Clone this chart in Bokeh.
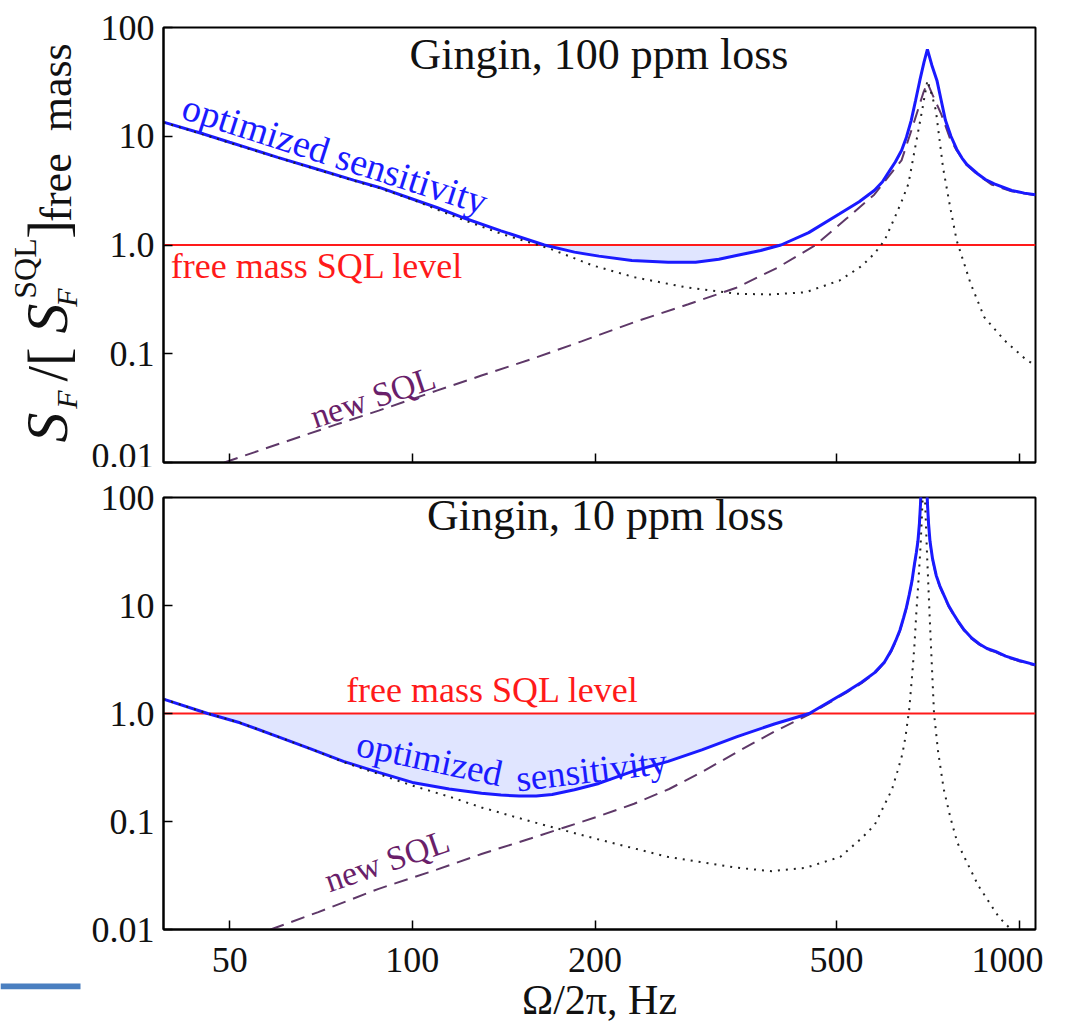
import numpy as np
from bokeh.plotting import figure
from bokeh.models import FixedTicker, Label, Range1d
from bokeh.layouts import column, row
from bokeh.core.properties import value
from bokeh.embed import file_html
from bokeh.resources import INLINE

FONT = "Liberation Serif"
X_MIN, X_MAX = 38.9, 1064.0
Y_MIN, Y_MAX = 0.01, 100.0

x_ticks = [50, 100, 200, 500, 1000]
x_tick_labels = ["50", "100", "200", "500", "1000"]
y_ticks = [0.01, 0.1, 1, 10, 100]
y_tick_labels = ["0.01", "0.1", "1.0", "10", "100"]
sql_level = 1.0

# ---------------- top panel: Gingin, 100 ppm loss ----------------
top_opt_f = [38.9, 45, 50, 60, 70, 80, 88, 100, 110, 120, 140, 165, 185, 203, 230, 264, 293, 320,
             342, 375, 405, 450, 506, 545, 577, 595, 610, 625, 640, 652, 664, 675, 686, 697, 706,
             718, 732, 744, 756, 772, 789, 805, 820, 854, 880, 910, 972, 1020, 1064]
top_opt_s = [13.5, 10.6, 8.8, 6.4, 4.95, 3.95, 3.40, 2.65, 2.2, 1.82, 1.35, 1.0, 0.86, 0.79, 0.72,
             0.695, 0.695, 0.74, 0.80, 0.89, 1.0, 1.3, 1.94, 2.5, 3.17, 3.8, 4.7, 5.8, 7.4, 9.8, 14.0,
             21.3, 32.6, 48, 63, 45, 32.6, 21.3, 14.0, 10.0, 7.6, 6.3, 5.5, 4.52, 4.0, 3.65, 3.17,
             3.0, 2.9]

top_dot_f = [38.9, 45, 50, 60, 70, 80, 88, 100, 120, 140, 169, 198, 232, 282, 342, 390, 445, 506,
             550, 577, 600, 624, 640, 657, 674, 692, 706, 718, 729, 749, 770, 789, 832, 876, 947,
             1023, 1064]
top_dot_s = [13.4, 10.5, 8.7, 6.35, 4.9, 3.9, 3.35, 2.62, 1.74, 1.27, 0.92, 0.65, 0.506, 0.409,
             0.356, 0.351, 0.368, 0.472, 0.64, 0.83, 1.10, 1.80, 2.5, 3.66, 7.9, 17.3, 32.6, 24,
             17.3, 5.19, 2.2, 1.10, 0.44, 0.217, 0.132, 0.0897, 0.078]

top_new_f = [49, 60, 75, 88, 110, 130, 156, 190, 232, 285, 342, 400, 462, 520, 577, 610, 640, 665,
             680, 695, 706, 720, 744, 770, 789, 820, 854, 900, 972, 1064]
top_new_s = [0.01, 0.0147, 0.0224, 0.030, 0.046, 0.063, 0.088, 0.13, 0.195, 0.285, 0.405, 0.62,
             1.0, 1.76, 2.9, 4.3, 6.0, 11.5, 17, 25, 31, 24, 16, 9.4, 7.4, 5.4, 4.45, 3.6, 3.12, 2.86]

# ---------------- bottom panel: Gingin, 10 ppm loss ----------------
bot_opt_f = [38.9, 46, 52, 60, 68, 77, 88, 100, 115, 130, 140, 150, 160, 170, 185, 203, 230, 264,
             300, 343, 395, 451, 520, 550, 578, 600, 615, 626, 636, 645, 652, 659, 666, 672, 677,
             681, 685, 688, 692, 697, 702, 706, 709, 713, 720, 730, 740, 751, 765, 780, 795, 812,
             835, 860, 885, 914, 950, 1000, 1064]
bot_opt_s = [1.36, 1.0, 0.82, 0.61, 0.47, 0.36, 0.285, 0.23, 0.2, 0.183, 0.176, 0.172, 0.172,
             0.178, 0.197, 0.225, 0.29, 0.36, 0.46, 0.61, 0.8, 1.0, 1.6, 1.95, 2.39, 3.0, 3.8, 4.72,
             5.9, 7.7, 9.6, 12.6, 17, 24, 31, 39.3, 58, 90, 200, 500, 200, 90, 58, 39.3, 27, 19,
             15.2, 12.6, 10.0, 8.3, 7.0, 5.92, 5.0, 4.4, 4.0, 3.76, 3.4, 3.1, 2.82]

bot_dot_f = [38.9, 46, 52, 60, 68, 77, 88, 100, 115, 130, 157, 203, 264, 343, 391, 445, 507, 550,
             578, 600, 617, 630, 642, 650, 659, 666, 672, 677, 682, 688, 693, 696, 700, 705, 712,
             718, 724, 735, 751, 770, 791, 856, 926, 963, 1000]
bot_dot_s = [1.36, 1.0, 0.82, 0.61, 0.47, 0.355, 0.275, 0.215, 0.17, 0.135, 0.1, 0.068, 0.047,
             0.0373, 0.0347, 0.0373, 0.047, 0.07, 0.093, 0.143, 0.197, 0.29, 0.42, 0.62, 1.1, 2.2,
             4.2, 8.6, 16, 36, 90, 250, 90, 30, 8, 2.8, 1.0, 0.45, 0.2, 0.11, 0.0636, 0.0256, 0.013,
             0.0104, 0.0078]

bot_new_f = [58.4, 70, 88, 110, 130, 157, 178, 203, 232, 265, 301, 343, 395, 451, 520, 550, 578,
             600, 615, 626, 636, 645, 652, 659, 666, 672, 677, 681, 685, 688, 692, 697, 702, 706,
             709, 713, 720, 730, 740, 751, 765, 780, 795, 812, 835, 860, 885, 914, 950, 1000, 1064]
bot_new_s = [0.01, 0.0145, 0.0238, 0.036, 0.05, 0.07, 0.088, 0.112, 0.146, 0.2, 0.29, 0.44, 0.68,
             0.98, 1.57, 1.91, 2.35, 2.95, 3.73, 4.64, 5.8, 7.6, 9.45, 12.4, 16.7, 23.6, 30.5, 38.6,
             57, 88, 196, 490, 196, 88, 57, 38.6, 26.5, 18.7, 14.9, 12.4, 9.8, 8.15, 6.9, 5.82, 4.92,
             4.33, 3.93, 3.7, 3.35, 3.05, 2.78]

BLUE = "#1a1aff"
RED = "#ff1a1a"
PURPLE_LINE = "#5e3868"
PURPLE_TEXT = "#6a1f6a"
FILL = "#dde2ff"

# rotated y-axis title, built from pieces: (text, centre x, centre y in page px, size, style)
ylab_parts = [
    ("S", 46, 427, "60px", "italic"),
    ("F", 66, 399, "30px", "italic"),
    ("/[", 47, 364, "56px", "normal"),
    ("S", 46, 318, "60px", "italic"),
    ("F", 66, 297, "30px", "italic"),
    ("SQL", 24, 268, "32px", "normal"),
    ("]", 47, 229, "56px", "normal"),
    ("free\u00a0\u00a0mass", 56, 132, "44px", "normal"),
]

LEFT_STRIP = 86
TOP_BORDER_TOP, TOP_FRAME_H, TOP_BORDER_BOTTOM = 27, 435, 5
BOT_BORDER_TOP, BOT_FRAME_H, BOT_BORDER_BOTTOM = 30, 432, 135
BAR_STRIP_FRAME_H = BOT_FRAME_H + 60          # strip frame reaches page y = 989
BAR_RIGHT = 80


def make_panel(frame_h, border_top, border_bottom, show_x_labels):
    p = figure(x_axis_type="log", y_axis_type="log",
               x_range=(X_MIN, X_MAX), y_range=(Y_MIN, Y_MAX),
               frame_width=872, frame_height=frame_h,
               min_border_left=163 - LEFT_STRIP, min_border_right=8,
               min_border_top=border_top, min_border_bottom=border_bottom,
               toolbar_location=None, output_backend="svg")
    p.grid.visible = False
    p.outline_line_color = "black"
    p.outline_line_width = 2
    p.background_fill_color = "white"
    p.border_fill_color = "white"
    for ax in (p.xaxis[0], p.yaxis[0]):
        ax.axis_line_color = "black"
        ax.axis_line_width = 2
        ax.major_tick_in = 9
        ax.major_tick_out = 0
        ax.major_tick_line_width = 1.5
        ax.minor_tick_line_color = None
        ax.major_label_text_font = FONT
        ax.major_label_text_font_size = "36px"
        ax.major_label_text_color = "#111111"
    p.xaxis.ticker = FixedTicker(ticks=x_ticks)
    p.yaxis.ticker = FixedTicker(ticks=y_ticks)
    p.yaxis.major_label_overrides = {float(t): l for t, l in zip(y_ticks, y_tick_labels)}
    p.yaxis.major_label_standoff = 9
    if show_x_labels:
        p.xaxis.major_label_overrides = {float(t): l for t, l in zip(x_ticks, x_tick_labels)}
        p.xaxis.major_label_standoff = 18
    else:
        p.xaxis.major_label_overrides = {float(t): "" for t in x_ticks}
        p.xaxis.major_label_text_font_size = "1px"
        p.xaxis.major_label_standoff = 0
    return p


def make_strip(frame_h, border_top, border_bottom):
    s = figure(title=None, frame_width=LEFT_STRIP, frame_height=frame_h,
               x_range=Range1d(0, LEFT_STRIP), y_range=Range1d(0, frame_h),
               min_border_left=0, min_border_right=0,
               min_border_top=border_top, min_border_bottom=border_bottom,
               x_axis_location=None, y_axis_location=None,
               toolbar_location=None, output_backend="svg")
    s.grid.visible = False
    s.outline_line_color = None
    s.background_fill_color = "white"
    s.border_fill_color = "white"
    return s


def draw_curves(p, opt_f, opt_s, dot_f, dot_s, new_f, new_s):
    of = np.array(opt_f, dtype=float)
    os_ = np.array(opt_s, dtype=float)
    mask = os_ <= sql_level
    p.varea(x=of[mask], y1=os_[mask], y2=sql_level, fill_color=FILL, fill_alpha=0.9)
    p.line([X_MIN, X_MAX], [sql_level, sql_level], line_color=RED, line_width=2)
    p.line(new_f, new_s, line_color=PURPLE_LINE, line_width=2, line_dash="14 8")
    p.line(opt_f, opt_s, line_color=BLUE, line_width=3)
    p.line(dot_f, dot_s, line_color="#222222", line_width=2, line_dash="2 6")


def add_text(p, x, y, text, size, color, angle=0.0):
    # (x, y) is the centre of the text box
    p.add_layout(Label(x=x, y=y, text=text, text_font=FONT, text_font_size=size,
                       text_color=color, angle=angle, text_align="center",
                       text_baseline="middle"))


# ---- top figure ----
p1 = make_panel(TOP_FRAME_H, TOP_BORDER_TOP, TOP_BORDER_BOTTOM, False)
draw_curves(p1, top_opt_f, top_opt_s, top_dot_f, top_dot_s, top_new_f, top_new_s)
add_text(p1, 203, 57, "Gingin, 100 ppm loss", "44px", "#111111")
add_text(p1, 74.6, 6.87, "optimized sensitivity", "38px", BLUE, angle=-0.31)
add_text(p1, 69.7, 0.636, "free mass SQL level", "36px", RED)
add_text(p1, 86.1, 0.040, "new SQL", "34px", PURPLE_TEXT, angle=0.325)

# strip left of the top panel: its frame spans page y 27..462, same as the panel frame
s1 = make_strip(TOP_FRAME_H, TOP_BORDER_TOP, TOP_BORDER_BOTTOM)
frame_bottom_page_y = TOP_BORDER_TOP + TOP_FRAME_H
for txt, cx, cy, size, style in ylab_parts:
    s1.text(x=[cx], y=[frame_bottom_page_y - cy], text=[txt], angle=np.pi / 2,
            text_font=value(FONT), text_font_size=size, text_font_style=style,
            text_color="#111111", text_align="center", text_baseline="middle")

# ---- bottom figure ----
p2 = make_panel(BOT_FRAME_H, BOT_BORDER_TOP, BOT_BORDER_BOTTOM, True)
draw_curves(p2, bot_opt_f, bot_opt_s, bot_dot_f, bot_dot_s, bot_new_f, bot_new_s)
add_text(p2, 208, 68, "Gingin, 10 ppm loss", "44px", "#111111")
add_text(p2, 135.6, 1.637, "free mass SQL level", "36px", RED)
add_text(p2, 106.8, 0.3815, "optimized", "37px", BLUE, angle=-0.21)
add_text(p2, 197.5, 0.30, "sensitivity", "37px", BLUE, angle=0.12)
add_text(p2, 90.8, 0.0434, "new SQL", "34px", PURPLE_TEXT, angle=0.33)

p2.xaxis.axis_label = "Ω/2π, Hz"
p2.xaxis.axis_label_text_font = FONT
p2.xaxis.axis_label_text_font_size = "42px"
p2.xaxis.axis_label_text_font_style = "normal"
p2.xaxis.axis_label_text_color = "#111111"
p2.xaxis.axis_label_standoff = 2

# decorative blue bar at the lower left of the page (page y 983..989 = bottom of strip frame)
s2 = make_strip(BAR_STRIP_FRAME_H, BOT_BORDER_TOP,
                BOT_FRAME_H + BOT_BORDER_BOTTOM - BAR_STRIP_FRAME_H)
s2.quad(left=[0], right=[BAR_RIGHT], bottom=[0], top=[6],
        fill_color="#4a7fc0", line_color=None)

layout = column(row(s1, p1, spacing=0), row(s2, p2, spacing=0), spacing=0)
open("out.html", "w").write(file_html(layout, INLINE))
